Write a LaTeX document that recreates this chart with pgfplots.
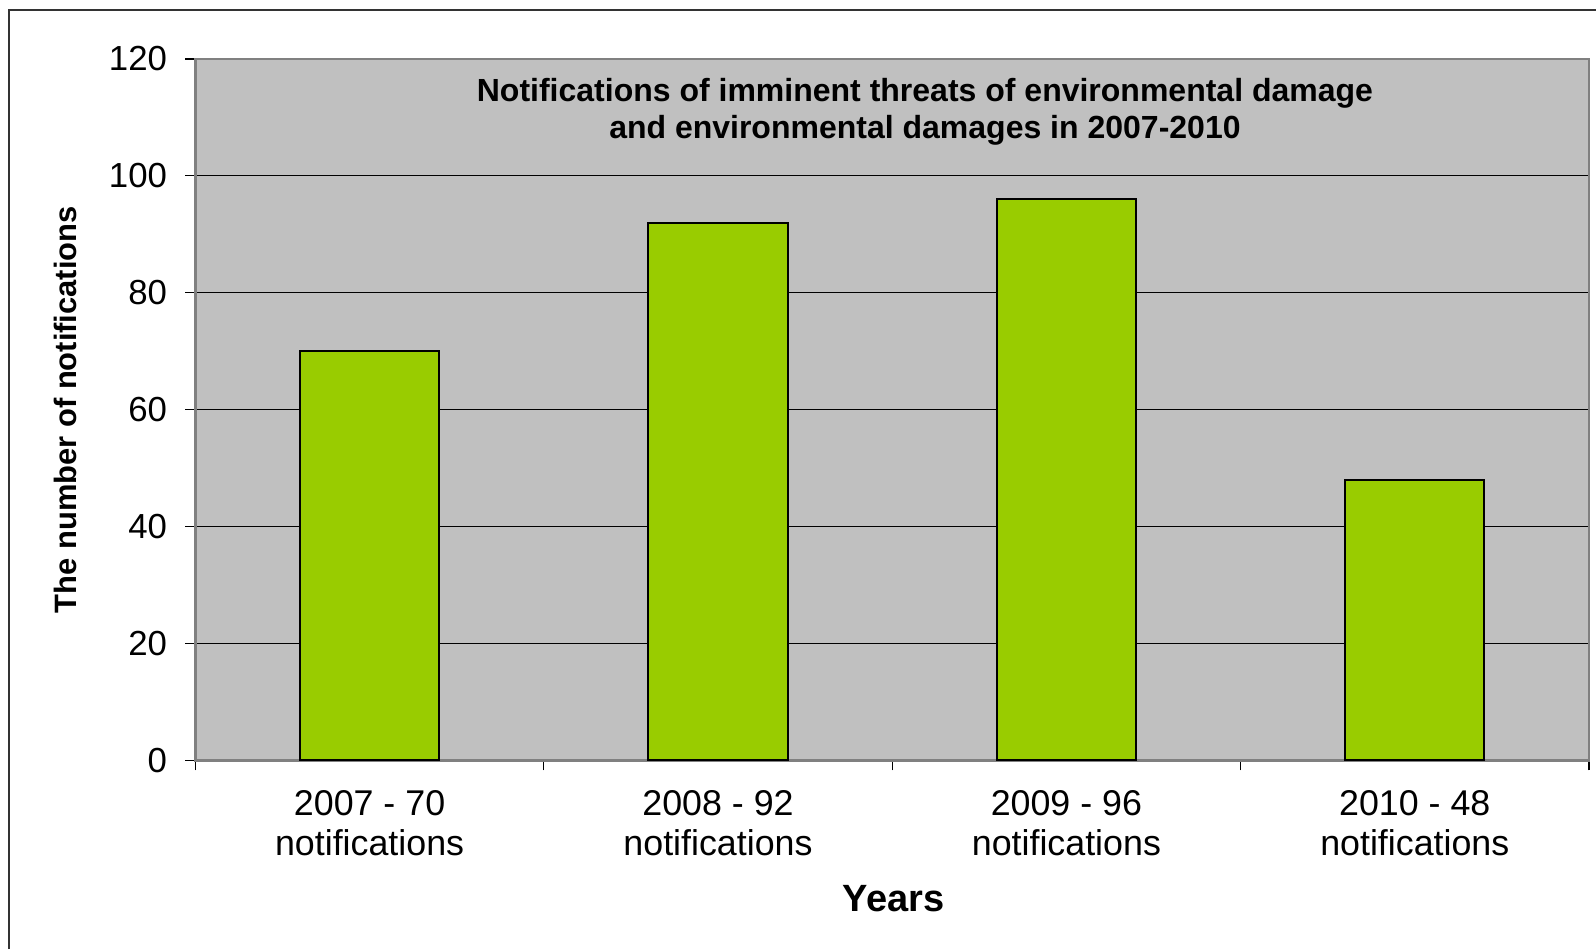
\documentclass[border=0pt]{standalone}
\usepackage{fontspec}
\setmainfont{Liberation Sans}
\usepackage{pgfplots}
\pgfplotsset{compat=1.18}
\definecolor{plotbg}{HTML}{C0C0C0}
\definecolor{barfill}{HTML}{99CC00}
\definecolor{border}{HTML}{808080}

\begin{document}
\begin{tikzpicture}
  \begin{axis}[
      at={(97.7pt,94.3pt)}, anchor=south west,
      scale only axis,
      width=696.8pt, height=350.7pt,
      axis background/.style={fill=plotbg},
      axis line style={draw=border, line width=1.2pt},
      ybar, bar width=0.4,
      xmin=0.5, xmax=4.5, ymin=0, ymax=120,
      ytick={0,20,...,120},
      ymajorgrids, grid style={black, line width=0.6pt},
      tick pos=left,
      tick align=outside, major tick length=5pt,
      tick style={black, line width=0.6pt},
      xtick={0.5,1.5,...,4.5}, xticklabels={},
      extra x ticks={1,2,3,4},
      extra x tick labels={{2007 - 70\\notifications},{2008 - 92\\notifications},{2009 - 96\\notifications},{2010 - 48\\notifications}},
      extra x tick style={major tick length=0pt, grid=none,
        tick label style={align=center, anchor=north, inner sep=0pt, yshift=-15pt,
          font=\fontsize{17.9}{19.9}\selectfont}},
      yticklabel style={font=\fontsize{17.4}{20}\selectfont, anchor=east, inner sep=0pt, xshift=-9pt},
      /pgf/number format/assume math mode=true,
      title={Notifications of imminent threats of environmental damage\\and environmental damages in 2007-2010},
      title style={at={(axis description cs:0.5235,0.9078)}, anchor=center, align=center,
        font=\bfseries\fontsize{16}{18.8}\selectfont},
      xlabel={Years},
      xlabel style={at={(axis description cs:0.501,-0.1976)}, anchor=center,
        font=\bfseries\fontsize{19}{21}\selectfont},
      ylabel={The number of notifications},
      ylabel style={at={(axis description cs:-0.0929,0.5)}, anchor=center,
        font=\bfseries\fontsize{15.45}{18}\selectfont},
      clip=false,
    ]
    \addplot[fill=barfill, draw=black, line width=1pt]
      coordinates {(1,70) (2,92) (3,96) (4,48)};
  \end{axis}
  \draw[line width=1pt, draw=black!80] (4.5pt,0pt) -- (4.5pt,469.5pt) -- (798pt,469.5pt);
  \pgfresetboundingbox
  \useasboundingbox (0pt,0pt) rectangle (798pt,474.5pt);
\end{tikzpicture}
\end{document}
